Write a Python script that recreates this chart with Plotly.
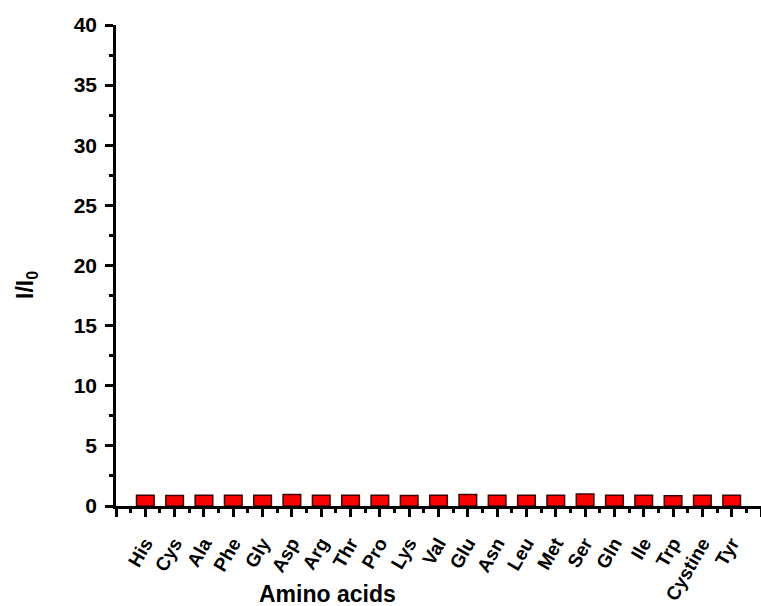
import plotly.graph_objects as go

amino_acids = ["His", "Cys", "Ala", "Phe", "Gly", "Asp", "Arg", "Thr", "Pro", "Lys",
               "Val", "Glu", "Asn", "Leu", "Met", "Ser", "Gln", "Ile", "Trp", "Cystine", "Tyr"]
ratio = [0.90, 0.88, 0.90, 0.90, 0.90, 0.95, 0.90, 0.90, 0.90, 0.87,
         0.90, 0.96, 0.90, 0.90, 0.90, 0.99, 0.90, 0.90, 0.86, 0.90, 0.89]
y_ticks = [0, 5, 10, 15, 20, 25, 30, 35, 40]

positions = list(range(len(amino_acids)))
tickvals = [-1] + positions + [len(amino_acids)]
ticktext = [""] + amino_acids + [""]

FONT = "Liberation Sans, Arial, sans-serif"

fig = go.Figure(go.Bar(
    x=positions, y=ratio, width=0.6,
    marker=dict(color="#FF0000", line=dict(color="#400000", width=1.5)),
))

fig.update_layout(
    width=761, height=606,
    margin=dict(l=116, r=0, t=25, b=100, autoexpand=False),
    plot_bgcolor="white", paper_bgcolor="white",
    showlegend=False,
    font=dict(family=FONT, color="black", size=20, weight="bold"),
)

fig.update_xaxes(
    range=[-1, len(amino_acids)],
    tickmode="array", tickvals=tickvals, ticktext=ticktext,
    tickangle=-60,
    showline=True, linecolor="black", linewidth=2.5,
    ticks="outside", ticklen=8, tickwidth=2.5, tickcolor="black",
    ticklabelstandoff=8,
    tickfont=dict(family=FONT, size=19, weight="bold"),
    showgrid=False, zeroline=False, automargin=False,
    minor=dict(tick0=0.5, dtick=1, ticks="outside", ticklen=4, tickwidth=2.5, tickcolor="black"),
)

fig.update_yaxes(
    range=[0, 40],
    tickmode="array", tickvals=y_ticks,
    showline=True, linecolor="black", linewidth=2.5,
    ticks="outside", ticklen=8, tickwidth=2.5, tickcolor="black",
    ticklabelstandoff=4,
    tickfont=dict(family=FONT, size=21, weight="bold"),
    showgrid=False, zeroline=False, automargin=False,
    minor=dict(tick0=2.5, dtick=5, ticks="outside", ticklen=4, tickwidth=2.5, tickcolor="black"),
)

fig.add_annotation(
    text="Amino acids", xref="paper", yref="paper",
    x=(327 - 116) / 645, y=-(594 - 506) / 481,
    showarrow=False, xanchor="center", yanchor="middle",
    font=dict(family=FONT, size=23, weight="bold"),
)
fig.add_annotation(
    text="I/I<sub>0</sub>", xref="paper", yref="paper",
    x=-(116 - 26) / 645, y=(506 - 285) / 481,
    showarrow=False, xanchor="center", yanchor="middle", textangle=-90,
    font=dict(family=FONT, size=23, weight="bold"),
)

fig.write_html("out.html", config={"displayModeBar": False},
               post_script="document.body.style.margin='0';document.body.style.overflow='hidden';")
